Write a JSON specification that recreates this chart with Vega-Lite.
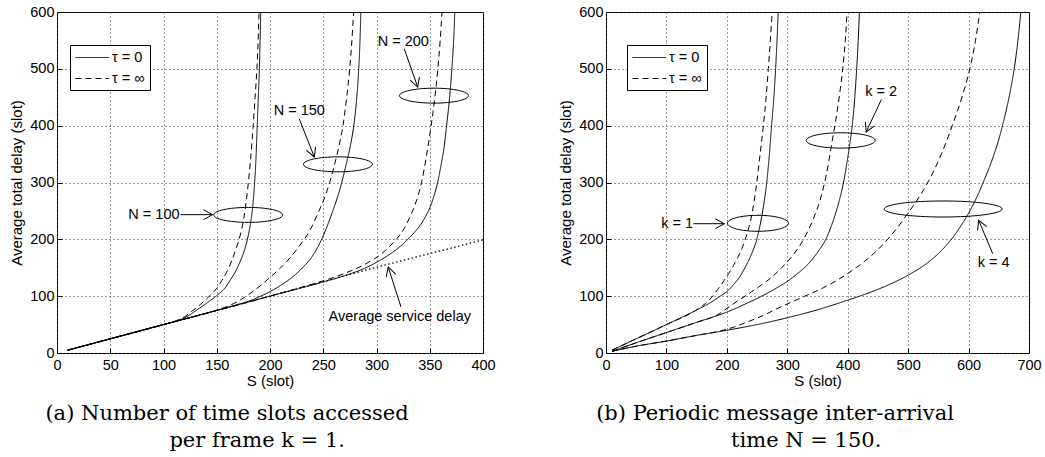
{
"$schema": "https://vega.github.io/schema/vega-lite/v6.json",
"background": "white",
"padding": {"left": 8, "top": 3, "right": 2, "bottom": 2},
"spacing": 61,
"config": {
  "font": "Liberation Sans",
  "view": {"stroke": "black", "strokeWidth": 1},
  "axis": {"grid": true, "gridDash": [1, 3], "gridColor": "#333", "gridWidth": 1, "domain": false, "ticks": true, "tickSize": -5, "tickColor": "black", "labelFlush": false, "labelOverlap": false, "labelFont": "Liberation Sans", "labelFontSize": 14.5, "labelColor": "black", "titleFont": "Liberation Sans", "titleFontSize": 15, "titleFontWeight": "normal", "titleColor": "black"},
  "axisX": {"labelPadding": 10, "titlePadding": 1.5},
  "axisY": {"labelPadding": 8, "titlePadding": 5.5},
  "legend": {"title": null, "orient": "none", "legendX": 13, "legendY": 33, "symbolType": "M -1 0 L 3.8 0", "symbolSize": 196, "symbolStrokeWidth": 1, "symbolStrokeColor": "black", "labelFont": "Liberation Sans", "labelFontSize": 14.5, "labelColor": "black", "padding": 5, "strokeColor": "black", "fillColor": "white", "rowPadding": 6, "labelOffset": 22, "cornerRadius": 0}
},
"resolve": {"scale": {"strokeDash": "independent"}, "legend": {"strokeDash": "independent"}},
"datasets": {
  "curvesA": [
    {"curve":"N = 100","tau":"τ = 0","S":10,"D":5},{"curve":"N = 100","tau":"τ = 0","S":50,"D":25},{"curve":"N = 100","tau":"τ = 0","S":100,"D":50},{"curve":"N = 100","tau":"τ = 0","S":115,"D":58},{"curve":"N = 100","tau":"τ = 0","S":122,"D":64},{"curve":"N = 100","tau":"τ = 0","S":130,"D":74},{"curve":"N = 100","tau":"τ = 0","S":140,"D":87},{"curve":"N = 100","tau":"τ = 0","S":150,"D":101},{"curve":"N = 100","tau":"τ = 0","S":158,"D":115},{"curve":"N = 100","tau":"τ = 0","S":163,"D":129},{"curve":"N = 100","tau":"τ = 0","S":168,"D":145},{"curve":"N = 100","tau":"τ = 0","S":172,"D":161},{"curve":"N = 100","tau":"τ = 0","S":176,"D":181},{"curve":"N = 100","tau":"τ = 0","S":179,"D":202},{"curve":"N = 100","tau":"τ = 0","S":182,"D":232},{"curve":"N = 100","tau":"τ = 0","S":184,"D":262},{"curve":"N = 100","tau":"τ = 0","S":185.6,"D":300},{"curve":"N = 100","tau":"τ = 0","S":187,"D":350},{"curve":"N = 100","tau":"τ = 0","S":188,"D":400},{"curve":"N = 100","tau":"τ = 0","S":189,"D":450},{"curve":"N = 100","tau":"τ = 0","S":190,"D":500},{"curve":"N = 100","tau":"τ = 0","S":190.7,"D":550},{"curve":"N = 100","tau":"τ = 0","S":191.3,"D":600},
    {"curve":"N = 100","tau":"τ = ∞","S":10,"D":5},{"curve":"N = 100","tau":"τ = ∞","S":50,"D":25},{"curve":"N = 100","tau":"τ = ∞","S":100,"D":50},{"curve":"N = 100","tau":"τ = ∞","S":110,"D":55.5},{"curve":"N = 100","tau":"τ = ∞","S":120,"D":64},{"curve":"N = 100","tau":"τ = ∞","S":127,"D":74},{"curve":"N = 100","tau":"τ = ∞","S":135,"D":86},{"curve":"N = 100","tau":"τ = ∞","S":143,"D":100},{"curve":"N = 100","tau":"τ = ∞","S":150,"D":114},{"curve":"N = 100","tau":"τ = ∞","S":155,"D":128},{"curve":"N = 100","tau":"τ = ∞","S":160,"D":145},{"curve":"N = 100","tau":"τ = ∞","S":164,"D":162},{"curve":"N = 100","tau":"τ = ∞","S":168,"D":183},{"curve":"N = 100","tau":"τ = ∞","S":172,"D":207},{"curve":"N = 100","tau":"τ = ∞","S":175.5,"D":238},{"curve":"N = 100","tau":"τ = ∞","S":178.5,"D":280},{"curve":"N = 100","tau":"τ = ∞","S":181.5,"D":335},{"curve":"N = 100","tau":"τ = ∞","S":184,"D":395},{"curve":"N = 100","tau":"τ = ∞","S":186,"D":450},{"curve":"N = 100","tau":"τ = ∞","S":187.7,"D":500},{"curve":"N = 100","tau":"τ = ∞","S":188.9,"D":550},{"curve":"N = 100","tau":"τ = ∞","S":189.7,"D":600},
    {"curve":"N = 150","tau":"τ = 0","S":10,"D":5},{"curve":"N = 150","tau":"τ = 0","S":100,"D":50},{"curve":"N = 150","tau":"τ = 0","S":150,"D":75},{"curve":"N = 150","tau":"τ = 0","S":172,"D":86.5},{"curve":"N = 150","tau":"τ = 0","S":180,"D":91},{"curve":"N = 150","tau":"τ = 0","S":190,"D":99},{"curve":"N = 150","tau":"τ = 0","S":200,"D":108},{"curve":"N = 150","tau":"τ = 0","S":210,"D":119},{"curve":"N = 150","tau":"τ = 0","S":220,"D":132},{"curve":"N = 150","tau":"τ = 0","S":230,"D":149},{"curve":"N = 150","tau":"τ = 0","S":240,"D":171},{"curve":"N = 150","tau":"τ = 0","S":248,"D":198},{"curve":"N = 150","tau":"τ = 0","S":253,"D":220},{"curve":"N = 150","tau":"τ = 0","S":258,"D":245},{"curve":"N = 150","tau":"τ = 0","S":263,"D":272},{"curve":"N = 150","tau":"τ = 0","S":267.5,"D":301},{"curve":"N = 150","tau":"τ = 0","S":271.5,"D":332},{"curve":"N = 150","tau":"τ = 0","S":275.5,"D":365},{"curve":"N = 150","tau":"τ = 0","S":279,"D":405},{"curve":"N = 150","tau":"τ = 0","S":281.5,"D":450},{"curve":"N = 150","tau":"τ = 0","S":283.3,"D":500},{"curve":"N = 150","tau":"τ = 0","S":284.5,"D":550},{"curve":"N = 150","tau":"τ = 0","S":285.3,"D":600},
    {"curve":"N = 150","tau":"τ = ∞","S":10,"D":5},{"curve":"N = 150","tau":"τ = ∞","S":100,"D":50},{"curve":"N = 150","tau":"τ = ∞","S":150,"D":75.5},{"curve":"N = 150","tau":"τ = ∞","S":160,"D":82},{"curve":"N = 150","tau":"τ = ∞","S":170,"D":91},{"curve":"N = 150","tau":"τ = ∞","S":180,"D":103},{"curve":"N = 150","tau":"τ = ∞","S":190,"D":117},{"curve":"N = 150","tau":"τ = ∞","S":200,"D":133},{"curve":"N = 150","tau":"τ = ∞","S":210,"D":150},{"curve":"N = 150","tau":"τ = ∞","S":220,"D":170},{"curve":"N = 150","tau":"τ = ∞","S":227,"D":187},{"curve":"N = 150","tau":"τ = ∞","S":234,"D":205},{"curve":"N = 150","tau":"τ = ∞","S":240,"D":225},{"curve":"N = 150","tau":"τ = ∞","S":245,"D":246},{"curve":"N = 150","tau":"τ = ∞","S":251,"D":272},{"curve":"N = 150","tau":"τ = ∞","S":256,"D":300},{"curve":"N = 150","tau":"τ = ∞","S":260.5,"D":331},{"curve":"N = 150","tau":"τ = ∞","S":264.5,"D":362},{"curve":"N = 150","tau":"τ = ∞","S":268.5,"D":400},{"curve":"N = 150","tau":"τ = ∞","S":272,"D":450},{"curve":"N = 150","tau":"τ = ∞","S":274.8,"D":500},{"curve":"N = 150","tau":"τ = ∞","S":276.9,"D":550},{"curve":"N = 150","tau":"τ = ∞","S":278.5,"D":600},
    {"curve":"N = 200","tau":"τ = 0","S":10,"D":5},{"curve":"N = 200","tau":"τ = 0","S":100,"D":50},{"curve":"N = 200","tau":"τ = 0","S":200,"D":100},{"curve":"N = 200","tau":"τ = 0","S":250,"D":125},{"curve":"N = 200","tau":"τ = 0","S":270,"D":136},{"curve":"N = 200","tau":"τ = 0","S":290,"D":150},{"curve":"N = 200","tau":"τ = 0","S":305,"D":165},{"curve":"N = 200","tau":"τ = 0","S":315,"D":177},{"curve":"N = 200","tau":"τ = 0","S":325,"D":192},{"curve":"N = 200","tau":"τ = 0","S":333,"D":207},{"curve":"N = 200","tau":"τ = 0","S":340,"D":222},{"curve":"N = 200","tau":"τ = 0","S":346,"D":240},{"curve":"N = 200","tau":"τ = 0","S":351,"D":260},{"curve":"N = 200","tau":"τ = 0","S":355,"D":283},{"curve":"N = 200","tau":"τ = 0","S":358,"D":305},{"curve":"N = 200","tau":"τ = 0","S":361,"D":335},{"curve":"N = 200","tau":"τ = 0","S":363.5,"D":362},{"curve":"N = 200","tau":"τ = 0","S":365.5,"D":395},{"curve":"N = 200","tau":"τ = 0","S":368,"D":437},{"curve":"N = 200","tau":"τ = 0","S":370,"D":480},{"curve":"N = 200","tau":"τ = 0","S":371.5,"D":520},{"curve":"N = 200","tau":"τ = 0","S":372.7,"D":560},{"curve":"N = 200","tau":"τ = 0","S":373.5,"D":600},
    {"curve":"N = 200","tau":"τ = ∞","S":10,"D":5},{"curve":"N = 200","tau":"τ = ∞","S":100,"D":50},{"curve":"N = 200","tau":"τ = ∞","S":200,"D":100},{"curve":"N = 200","tau":"τ = ∞","S":230,"D":116},{"curve":"N = 200","tau":"τ = ∞","S":250,"D":127},{"curve":"N = 200","tau":"τ = ∞","S":270,"D":140},{"curve":"N = 200","tau":"τ = ∞","S":290,"D":157},{"curve":"N = 200","tau":"τ = ∞","S":305,"D":175},{"curve":"N = 200","tau":"τ = ∞","S":312,"D":187},{"curve":"N = 200","tau":"τ = ∞","S":319,"D":201},{"curve":"N = 200","tau":"τ = ∞","S":326,"D":219},{"curve":"N = 200","tau":"τ = ∞","S":331,"D":238},{"curve":"N = 200","tau":"τ = ∞","S":336,"D":260},{"curve":"N = 200","tau":"τ = ∞","S":339.5,"D":280},{"curve":"N = 200","tau":"τ = ∞","S":342.5,"D":302},{"curve":"N = 200","tau":"τ = ∞","S":347,"D":348},{"curve":"N = 200","tau":"τ = ∞","S":351.3,"D":400},{"curve":"N = 200","tau":"τ = ∞","S":354.8,"D":450},{"curve":"N = 200","tau":"τ = ∞","S":357.6,"D":500},{"curve":"N = 200","tau":"τ = ∞","S":359.8,"D":550},{"curve":"N = 200","tau":"τ = ∞","S":361.5,"D":600}
  ],
  "service": [{"S":10,"D":5},{"S":100,"D":50},{"S":200,"D":100},{"S":300,"D":151},{"S":400,"D":199}],
  "ellipsesA": [{"name":"N = 100","S":179.5,"D":243},{"name":"N = 150","S":263.8,"D":332},{"name":"N = 200","S":354,"D":452.8}],
  "arrowsA": [{"name":"N = 100","S":116,"D":243.4,"S2":146,"D2":243.4},{"name":"N = 150","S":227.5,"D":412,"S2":241.6,"D2":345},{"name":"N = 200","S":326,"D":535.5,"S2":338.7,"D2":468},{"name":"service","S":323,"D":81,"S2":311,"D2":151.3}],
  "labelsA": [{"S":67,"D":243.4,"text":"N = 100"},{"S":203.5,"D":426,"text":"N = 150"},{"S":301.1,"D":548,"text":"N = 200"},{"S":255,"D":64,"text":"Average service delay"}],
  "curvesB": [
    {"curve":"k = 1","tau":"τ = 0","S":10,"D":5},{"curve":"k = 1","tau":"τ = 0","S":50,"D":25},{"curve":"k = 1","tau":"τ = 0","S":100,"D":50},{"curve":"k = 1","tau":"τ = 0","S":156,"D":79},{"curve":"k = 1","tau":"τ = 0","S":175,"D":90},{"curve":"k = 1","tau":"τ = 0","S":189,"D":100},{"curve":"k = 1","tau":"τ = 0","S":200,"D":108},{"curve":"k = 1","tau":"τ = 0","S":210,"D":119},{"curve":"k = 1","tau":"τ = 0","S":220,"D":132},{"curve":"k = 1","tau":"τ = 0","S":230,"D":150},{"curve":"k = 1","tau":"τ = 0","S":240,"D":172},{"curve":"k = 1","tau":"τ = 0","S":249.5,"D":200},{"curve":"k = 1","tau":"τ = 0","S":257.7,"D":240},{"curve":"k = 1","tau":"τ = 0","S":262,"D":268},{"curve":"k = 1","tau":"τ = 0","S":266,"D":300},{"curve":"k = 1","tau":"τ = 0","S":270,"D":345},{"curve":"k = 1","tau":"τ = 0","S":274,"D":400},{"curve":"k = 1","tau":"τ = 0","S":277.8,"D":450},{"curve":"k = 1","tau":"τ = 0","S":280.7,"D":500},{"curve":"k = 1","tau":"τ = 0","S":283,"D":550},{"curve":"k = 1","tau":"τ = 0","S":285,"D":600},
    {"curve":"k = 1","tau":"τ = ∞","S":10,"D":5},{"curve":"k = 1","tau":"τ = ∞","S":50,"D":25},{"curve":"k = 1","tau":"τ = ∞","S":100,"D":50},{"curve":"k = 1","tau":"τ = ∞","S":150,"D":76},{"curve":"k = 1","tau":"τ = ∞","S":164.5,"D":87},{"curve":"k = 1","tau":"τ = ∞","S":175,"D":98},{"curve":"k = 1","tau":"τ = ∞","S":185,"D":112},{"curve":"k = 1","tau":"τ = ∞","S":195,"D":127},{"curve":"k = 1","tau":"τ = ∞","S":203,"D":140},{"curve":"k = 1","tau":"τ = ∞","S":211,"D":154},{"curve":"k = 1","tau":"τ = ∞","S":218,"D":168},{"curve":"k = 1","tau":"τ = ∞","S":225,"D":184},{"curve":"k = 1","tau":"τ = ∞","S":232,"D":205},{"curve":"k = 1","tau":"τ = ∞","S":239,"D":232},{"curve":"k = 1","tau":"τ = ∞","S":244.5,"D":263},{"curve":"k = 1","tau":"τ = ∞","S":249.5,"D":300},{"curve":"k = 1","tau":"τ = ∞","S":255,"D":350},{"curve":"k = 1","tau":"τ = ∞","S":260.4,"D":400},{"curve":"k = 1","tau":"τ = ∞","S":265,"D":450},{"curve":"k = 1","tau":"τ = ∞","S":268.6,"D":500},{"curve":"k = 1","tau":"τ = ∞","S":272,"D":550},{"curve":"k = 1","tau":"τ = ∞","S":275,"D":600},
    {"curve":"k = 2","tau":"τ = 0","S":10,"D":3},{"curve":"k = 2","tau":"τ = 0","S":50,"D":18},{"curve":"k = 2","tau":"τ = 0","S":100,"D":36},{"curve":"k = 2","tau":"τ = 0","S":150,"D":54},{"curve":"k = 2","tau":"τ = 0","S":200,"D":72},{"curve":"k = 2","tau":"τ = 0","S":230,"D":86},{"curve":"k = 2","tau":"τ = 0","S":257.7,"D":100},{"curve":"k = 2","tau":"τ = 0","S":280,"D":113},{"curve":"k = 2","tau":"τ = 0","S":300,"D":126},{"curve":"k = 2","tau":"τ = 0","S":315,"D":138},{"curve":"k = 2","tau":"τ = 0","S":334,"D":156},{"curve":"k = 2","tau":"τ = 0","S":350,"D":177},{"curve":"k = 2","tau":"τ = 0","S":364.6,"D":202},{"curve":"k = 2","tau":"τ = 0","S":377,"D":236},{"curve":"k = 2","tau":"τ = 0","S":386,"D":268},{"curve":"k = 2","tau":"τ = 0","S":393.6,"D":303},{"curve":"k = 2","tau":"τ = 0","S":399.5,"D":340},{"curve":"k = 2","tau":"τ = 0","S":404,"D":372},{"curve":"k = 2","tau":"τ = 0","S":408,"D":405},{"curve":"k = 2","tau":"τ = 0","S":411.7,"D":450},{"curve":"k = 2","tau":"τ = 0","S":414.8,"D":500},{"curve":"k = 2","tau":"τ = 0","S":417.4,"D":550},{"curve":"k = 2","tau":"τ = 0","S":419.4,"D":600},
    {"curve":"k = 2","tau":"τ = ∞","S":10,"D":3},{"curve":"k = 2","tau":"τ = ∞","S":50,"D":18},{"curve":"k = 2","tau":"τ = ∞","S":100,"D":36},{"curve":"k = 2","tau":"τ = ∞","S":150,"D":54},{"curve":"k = 2","tau":"τ = ∞","S":186,"D":68},{"curve":"k = 2","tau":"τ = ∞","S":197,"D":76},{"curve":"k = 2","tau":"τ = ∞","S":210,"D":86},{"curve":"k = 2","tau":"τ = ∞","S":230,"D":100},{"curve":"k = 2","tau":"τ = ∞","S":257.7,"D":120},{"curve":"k = 2","tau":"τ = ∞","S":275,"D":134},{"curve":"k = 2","tau":"τ = ∞","S":290.6,"D":150},{"curve":"k = 2","tau":"τ = ∞","S":310,"D":173},{"curve":"k = 2","tau":"τ = ∞","S":328,"D":202},{"curve":"k = 2","tau":"τ = ∞","S":343,"D":236},{"curve":"k = 2","tau":"τ = ∞","S":354,"D":268},{"curve":"k = 2","tau":"τ = ∞","S":361.8,"D":300},{"curve":"k = 2","tau":"τ = ∞","S":367.5,"D":330},{"curve":"k = 2","tau":"τ = ∞","S":372.5,"D":362},{"curve":"k = 2","tau":"τ = ∞","S":380,"D":408},{"curve":"k = 2","tau":"τ = ∞","S":386.5,"D":455},{"curve":"k = 2","tau":"τ = ∞","S":391.8,"D":500},{"curve":"k = 2","tau":"τ = ∞","S":396,"D":550},{"curve":"k = 2","tau":"τ = ∞","S":399,"D":600},
    {"curve":"k = 4","tau":"τ = 0","S":10,"D":3},{"curve":"k = 4","tau":"τ = 0","S":50,"D":12},{"curve":"k = 4","tau":"τ = 0","S":100,"D":21},{"curve":"k = 4","tau":"τ = 0","S":150,"D":31},{"curve":"k = 4","tau":"τ = 0","S":200,"D":40},{"curve":"k = 4","tau":"τ = 0","S":250,"D":50},{"curve":"k = 4","tau":"τ = 0","S":300,"D":62},{"curve":"k = 4","tau":"τ = 0","S":350,"D":76},{"curve":"k = 4","tau":"τ = 0","S":400,"D":93},{"curve":"k = 4","tau":"τ = 0","S":450,"D":112},{"curve":"k = 4","tau":"τ = 0","S":500,"D":137},{"curve":"k = 4","tau":"τ = 0","S":530,"D":157},{"curve":"k = 4","tau":"τ = 0","S":550,"D":175},{"curve":"k = 4","tau":"τ = 0","S":570,"D":198},{"curve":"k = 4","tau":"τ = 0","S":585,"D":220},{"curve":"k = 4","tau":"τ = 0","S":600,"D":246},{"curve":"k = 4","tau":"τ = 0","S":614,"D":275},{"curve":"k = 4","tau":"τ = 0","S":625,"D":302},{"curve":"k = 4","tau":"τ = 0","S":638,"D":337},{"curve":"k = 4","tau":"τ = 0","S":649,"D":372},{"curve":"k = 4","tau":"τ = 0","S":658,"D":408},{"curve":"k = 4","tau":"τ = 0","S":667,"D":450},{"curve":"k = 4","tau":"τ = 0","S":675.5,"D":500},{"curve":"k = 4","tau":"τ = 0","S":681.7,"D":550},{"curve":"k = 4","tau":"τ = 0","S":686.5,"D":600},
    {"curve":"k = 4","tau":"τ = ∞","S":10,"D":3},{"curve":"k = 4","tau":"τ = ∞","S":50,"D":12},{"curve":"k = 4","tau":"τ = ∞","S":100,"D":21},{"curve":"k = 4","tau":"τ = ∞","S":150,"D":31},{"curve":"k = 4","tau":"τ = ∞","S":190,"D":39},{"curve":"k = 4","tau":"τ = ∞","S":210,"D":45},{"curve":"k = 4","tau":"τ = ∞","S":230,"D":53},{"curve":"k = 4","tau":"τ = ∞","S":260,"D":66},{"curve":"k = 4","tau":"τ = ∞","S":285,"D":79},{"curve":"k = 4","tau":"τ = ∞","S":310,"D":91},{"curve":"k = 4","tau":"τ = ∞","S":329,"D":100},{"curve":"k = 4","tau":"τ = ∞","S":360,"D":115},{"curve":"k = 4","tau":"τ = ∞","S":384,"D":129},{"curve":"k = 4","tau":"τ = ∞","S":415,"D":151},{"curve":"k = 4","tau":"τ = ∞","S":440,"D":172},{"curve":"k = 4","tau":"τ = ∞","S":466,"D":200},{"curve":"k = 4","tau":"τ = ∞","S":484,"D":223},{"curve":"k = 4","tau":"τ = ∞","S":499,"D":245},{"curve":"k = 4","tau":"τ = ∞","S":518,"D":274},{"curve":"k = 4","tau":"τ = ∞","S":534,"D":303},{"curve":"k = 4","tau":"τ = ∞","S":555,"D":350},{"curve":"k = 4","tau":"τ = ∞","S":573,"D":400},{"curve":"k = 4","tau":"τ = ∞","S":589,"D":450},{"curve":"k = 4","tau":"τ = ∞","S":602,"D":500},{"curve":"k = 4","tau":"τ = ∞","S":611.5,"D":550},{"curve":"k = 4","tau":"τ = ∞","S":618.5,"D":600}
  ],
  "ellipsesB": [{"name":"k = 1","S":251.5,"D":228.2},{"name":"k = 2","S":388.4,"D":374},{"name":"k = 4","S":558,"D":253.4}],
  "arrowsB": [{"name":"k = 1","S":144.5,"D":227.5,"S2":195.8,"D2":227.5},{"name":"k = 2","S":455.7,"D":446,"S2":430.5,"D2":388.9},{"name":"k = 4","S":640,"D":174.7,"S2":616.7,"D2":233.5}],
  "labelsB": [{"S":91.3,"D":227.5,"text":"k = 1"},{"S":429,"D":459,"text":"k = 2"},{"S":615,"D":159,"text":"k = 4"}]
},
"hconcat": [
  {
    "title": {"text": "per frame k = 1.", "orient": "bottom", "anchor": "middle", "font": "DejaVu Serif", "fontSize": 21, "fontWeight": "normal", "color": "black", "offset": 5, "dx": 5},
    "resolve": {"scale": {"strokeDash": "independent"}, "legend": {"strokeDash": "independent"}},
    "vconcat": [
      {
        "width": 426, "height": 341,
        "title": {"text": "(a) Number of time slots accessed", "orient": "bottom", "anchor": "middle", "font": "DejaVu Serif", "fontSize": 21, "fontWeight": "normal", "color": "black", "offset": 15, "dx": -43},
        "layer": [
          {"data": {"name": "curvesA"}, "mark": {"type": "line", "color": "black", "strokeWidth": 1, "clip": true, "interpolate": "monotone"},
           "encoding": {
             "x": {"field": "S", "type": "quantitative", "scale": {"domain": [0, 400], "nice": false}, "axis": {"title": "S (slot)", "values": [0, 50, 100, 150, 200, 250, 300, 350, 400]}},
             "y": {"field": "D", "type": "quantitative", "scale": {"domain": [0, 600], "nice": false}, "axis": {"title": "Average total delay (slot)", "values": [0, 100, 200, 300, 400, 500, 600]}},
             "detail": {"field": "curve", "type": "nominal"},
             "strokeDash": {"field": "tau", "type": "nominal", "scale": {"domain": ["τ = 0", "τ = ∞"], "range": [[1, 0], [6, 4]]}, "legend": {"legendX": 13}}
           }},
          {"data": {"name": "service"}, "mark": {"type": "line", "color": "black", "strokeWidth": 1.3, "strokeDash": [1.5, 2.5]},
           "encoding": {"x": {"field": "S", "type": "quantitative"}, "y": {"field": "D", "type": "quantitative"}}},
          {"data": {"name": "ellipsesA"}, "mark": {"type": "point", "shape": "M -1 0 A 1 0.217 0 1 1 1 0 A 1 0.217 0 1 1 -1 0 Z", "size": 4761, "filled": false, "stroke": "black", "strokeWidth": 1, "opacity": 1},
           "encoding": {"x": {"field": "S", "type": "quantitative"}, "y": {"field": "D", "type": "quantitative"}}},
          {"data": {"name": "arrowsA"}, "mark": {"type": "rule", "color": "black", "strokeWidth": 1},
           "encoding": {"x": {"field": "S", "type": "quantitative"}, "y": {"field": "D", "type": "quantitative"}, "x2": {"field": "S2"}, "y2": {"field": "D2"}}},
          {"data": {"name": "arrowsA"}, "transform": [{"filter": "datum.name === 'N = 100'"}], "mark": {"type": "point", "shape": "M -1 -0.55 L 0 0 L -1 0.55", "angle": 0, "size": 324, "filled": false, "stroke": "black", "strokeWidth": 1, "opacity": 1},
           "encoding": {"x": {"field": "S2", "type": "quantitative"}, "y": {"field": "D2", "type": "quantitative"}}},
          {"data": {"name": "arrowsA"}, "transform": [{"filter": "datum.name === 'N = 150'"}], "mark": {"type": "point", "shape": "M -1 -0.55 L 0 0 L -1 0.55", "angle": 68.6, "size": 324, "filled": false, "stroke": "black", "strokeWidth": 1, "opacity": 1},
           "encoding": {"x": {"field": "S2", "type": "quantitative"}, "y": {"field": "D2", "type": "quantitative"}}},
          {"data": {"name": "arrowsA"}, "transform": [{"filter": "datum.name === 'N = 200'"}], "mark": {"type": "point", "shape": "M -1 -0.55 L 0 0 L -1 0.55", "angle": 70.7, "size": 324, "filled": false, "stroke": "black", "strokeWidth": 1, "opacity": 1},
           "encoding": {"x": {"field": "S2", "type": "quantitative"}, "y": {"field": "D2", "type": "quantitative"}}},
          {"data": {"name": "arrowsA"}, "transform": [{"filter": "datum.name === 'service'"}], "mark": {"type": "point", "shape": "M -1 -0.55 L 0 0 L -1 0.55", "angle": 252.4, "size": 324, "filled": false, "stroke": "black", "strokeWidth": 1, "opacity": 1},
           "encoding": {"x": {"field": "S2", "type": "quantitative"}, "y": {"field": "D2", "type": "quantitative"}}},
          {"data": {"name": "labelsA"}, "mark": {"type": "text", "align": "left", "baseline": "middle", "font": "Liberation Sans", "fontSize": 14.5, "color": "black"},
           "encoding": {"x": {"field": "S", "type": "quantitative"}, "y": {"field": "D", "type": "quantitative"}, "text": {"field": "text"}}}
        ]
      }
    ]
  },
  {
    "title": {"text": "time N = 150.", "orient": "bottom", "anchor": "middle", "font": "DejaVu Serif", "fontSize": 21, "fontWeight": "normal", "color": "black", "offset": 5, "dx": 6.5},
    "resolve": {"scale": {"strokeDash": "independent"}, "legend": {"strokeDash": "independent"}},
    "vconcat": [
      {
        "width": 423, "height": 341,
        "title": {"text": "(b) Periodic message inter-arrival", "orient": "bottom", "anchor": "middle", "font": "DejaVu Serif", "fontSize": 21, "fontWeight": "normal", "color": "black", "offset": 15, "dx": -42.5},
        "layer": [
          {"data": {"name": "curvesB"}, "mark": {"type": "line", "color": "black", "strokeWidth": 1, "clip": true, "interpolate": "monotone"},
           "encoding": {
             "x": {"field": "S", "type": "quantitative", "scale": {"domain": [0, 700], "nice": false}, "axis": {"title": "S (slot)", "values": [0, 100, 200, 300, 400, 500, 600, 700]}},
             "y": {"field": "D", "type": "quantitative", "scale": {"domain": [0, 600], "nice": false}, "axis": {"title": "Average total delay (slot)", "values": [0, 100, 200, 300, 400, 500, 600]}},
             "detail": {"field": "curve", "type": "nominal"},
             "strokeDash": {"field": "tau", "type": "nominal", "scale": {"domain": ["τ = 0", "τ = ∞"], "range": [[1, 0], [6, 4]]}, "legend": {"legendX": 21}}
           }},
          {"data": {"name": "ellipsesB"}, "transform": [{"filter": "datum.name === 'k = 1'"}], "mark": {"type": "point", "shape": "M -1 0 A 1 0.262 0 1 1 1 0 A 1 0.262 0 1 1 -1 0 Z", "size": 3721, "filled": false, "stroke": "black", "strokeWidth": 1, "opacity": 1},
           "encoding": {"x": {"field": "S", "type": "quantitative"}, "y": {"field": "D", "type": "quantitative"}}},
          {"data": {"name": "ellipsesB"}, "transform": [{"filter": "datum.name === 'k = 2'"}], "mark": {"type": "point", "shape": "M -1 0 A 1 0.222 0 1 1 1 0 A 1 0.222 0 1 1 -1 0 Z", "size": 4761, "filled": false, "stroke": "black", "strokeWidth": 1, "opacity": 1},
           "encoding": {"x": {"field": "S", "type": "quantitative"}, "y": {"field": "D", "type": "quantitative"}}},
          {"data": {"name": "ellipsesB"}, "transform": [{"filter": "datum.name === 'k = 4'"}], "mark": {"type": "point", "shape": "M -1 0 A 1 0.136 0 1 1 1 0 A 1 0.136 0 1 1 -1 0 Z", "size": 13924, "filled": false, "stroke": "black", "strokeWidth": 1, "opacity": 1},
           "encoding": {"x": {"field": "S", "type": "quantitative"}, "y": {"field": "D", "type": "quantitative"}}},
          {"data": {"name": "arrowsB"}, "mark": {"type": "rule", "color": "black", "strokeWidth": 1},
           "encoding": {"x": {"field": "S", "type": "quantitative"}, "y": {"field": "D", "type": "quantitative"}, "x2": {"field": "S2"}, "y2": {"field": "D2"}}},
          {"data": {"name": "arrowsB"}, "transform": [{"filter": "datum.name === 'k = 1'"}], "mark": {"type": "point", "shape": "M -1 -0.55 L 0 0 L -1 0.55", "angle": 0, "size": 324, "filled": false, "stroke": "black", "strokeWidth": 1, "opacity": 1},
           "encoding": {"x": {"field": "S2", "type": "quantitative"}, "y": {"field": "D2", "type": "quantitative"}}},
          {"data": {"name": "arrowsB"}, "transform": [{"filter": "datum.name === 'k = 2'"}], "mark": {"type": "point", "shape": "M -1 -0.55 L 0 0 L -1 0.55", "angle": 114.6, "size": 324, "filled": false, "stroke": "black", "strokeWidth": 1, "opacity": 1},
           "encoding": {"x": {"field": "S2", "type": "quantitative"}, "y": {"field": "D2", "type": "quantitative"}}},
          {"data": {"name": "arrowsB"}, "transform": [{"filter": "datum.name === 'k = 4'"}], "mark": {"type": "point", "shape": "M -1 -0.55 L 0 0 L -1 0.55", "angle": 247.3, "size": 324, "filled": false, "stroke": "black", "strokeWidth": 1, "opacity": 1},
           "encoding": {"x": {"field": "S2", "type": "quantitative"}, "y": {"field": "D2", "type": "quantitative"}}},
          {"data": {"name": "labelsB"}, "mark": {"type": "text", "align": "left", "baseline": "middle", "font": "Liberation Sans", "fontSize": 14.5, "color": "black"},
           "encoding": {"x": {"field": "S", "type": "quantitative"}, "y": {"field": "D", "type": "quantitative"}, "text": {"field": "text"}}}
        ]
      }
    ]
  }
]
}
